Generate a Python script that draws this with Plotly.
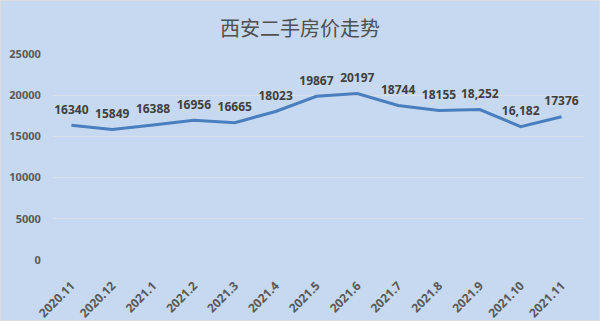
import plotly.graph_objects as go

months = ["2020.11", "2020.12", "2021.1", "2021.2", "2021.3", "2021.4", "2021.5",
          "2021.6", "2021.7", "2021.8", "2021.9", "2021.10", "2021.11"]
prices = [16340, 15849, 16388, 16956, 16665, 18023, 19867, 20197, 18744, 18155, 18252, 16182, 17376]
labels = ["16340", "15849", "16388", "16956", "16665", "18023", "19867", "20197",
          "18744", "18155", "18,252", "16,182", "17376"]
y_ticks = [0, 5000, 10000, 15000, 20000, 25000]
y_tick_text = ["0", "5000", "10000", "15000", "20000", "25000"]

BG = "#c6d9f0"
GREY = "#595959"

fig = go.Figure()
fig.add_trace(go.Scatter(
    x=months, y=prices, mode="lines+markers+text",
    line=dict(color="#4a7ebf", width=3),
    marker=dict(size=12, color="rgba(0,0,0,0)"),
    text=labels, textposition="top center",
    textfont=dict(family="Noto Sans", size=12, color="#404040", weight="bold"),
    cliponaxis=False, hoverinfo="skip",
))

fig.update_layout(
    width=600, height=321,
    paper_bgcolor=BG, plot_bgcolor=BG,
    margin=dict(l=53, r=16, t=54, b=61, autoexpand=False),
    showlegend=False,
    title=dict(text="西安二手房价走势", x=0.5, xanchor="center", y=0.91, yanchor="middle",
               font=dict(family="Noto Sans CJK SC", size=20, color="#505050")),
    xaxis=dict(type="category", range=[-0.45, len(months) - 0.45],
               showgrid=False, zeroline=False, showline=False,
               automargin=False,
               tickangle=-45, ticks="outside", ticklen=13, tickcolor="rgba(0,0,0,0)",
               tickfont=dict(family="Noto Sans", size=12, color=GREY, weight="bold")),
    yaxis=dict(range=[0, 25000], tickvals=y_ticks, ticktext=y_tick_text,
               automargin=False,
               showgrid=True, gridcolor="#d8e0ea",
               gridwidth=1, zeroline=False, showline=False,
               ticks="outside", ticklen=9, tickcolor="rgba(0,0,0,0)",
               tickfont=dict(family="Noto Sans", size=11, color=GREY, weight="bold")),
    shapes=[dict(type="rect", xref="paper", yref="paper", x0=-53/531, x1=1+16/531,
                 y0=-61/206, y1=1+54/206, line=dict(color="#dcdcdc", width=2),
                 fillcolor="rgba(0,0,0,0)")],
)

fig.write_html("out.html")
